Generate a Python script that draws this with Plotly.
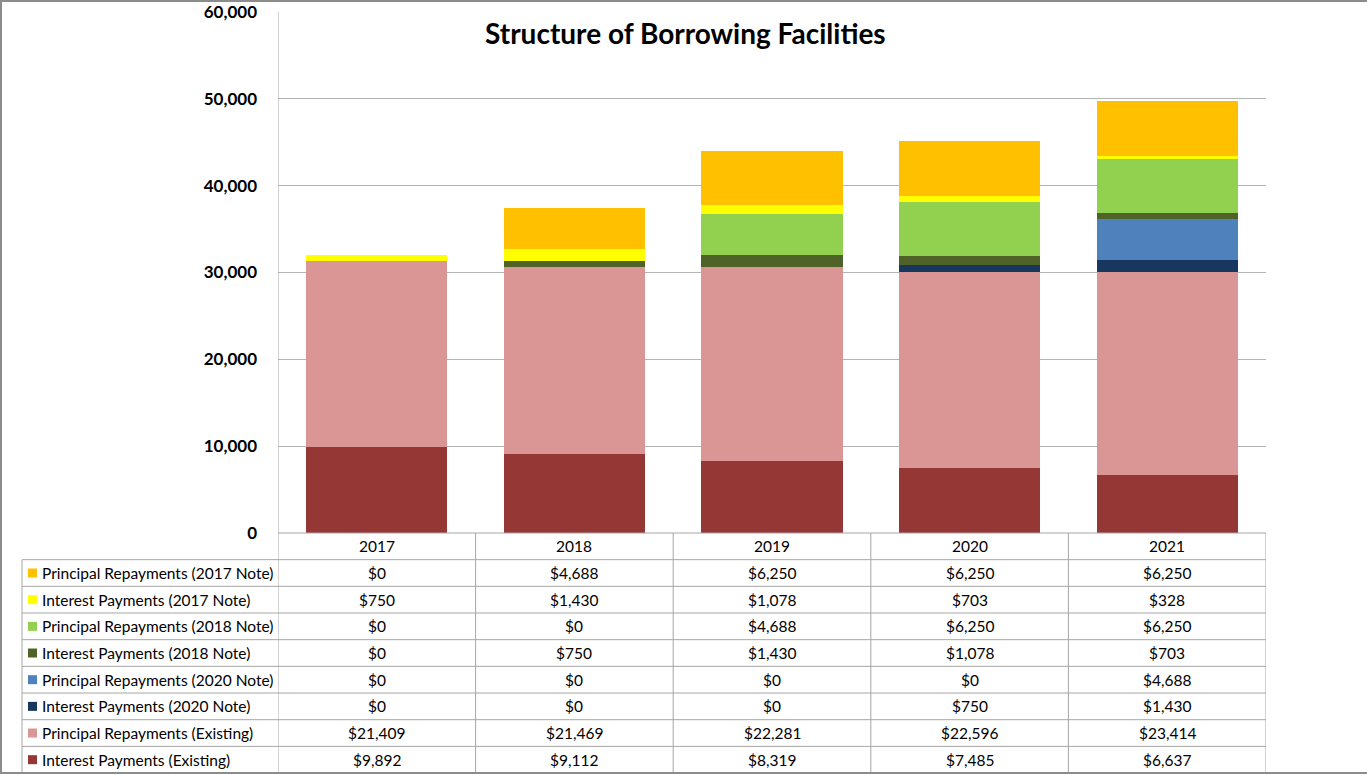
import plotly.graph_objects as go

years = ["2017", "2018", "2019", "2020", "2021"]

# series (stack order bottom -> top)
interest_existing = [9892, 9112, 8319, 7485, 6637]
principal_existing = [21409, 21469, 22281, 22596, 23414]
interest_2020 = [0, 0, 0, 750, 1430]
principal_2020 = [0, 0, 0, 0, 4688]
interest_2018 = [0, 750, 1430, 1078, 703]
principal_2018 = [0, 0, 4688, 6250, 6250]
interest_2017 = [750, 1430, 1078, 703, 328]
principal_2017 = [0, 4688, 6250, 6250, 6250]

series = [
    ("Interest Payments (Existing)", interest_existing, "#953735"),
    ("Principal Repayments (Existing)", principal_existing, "#D99694"),
    ("Interest Payments (2020 Note)", interest_2020, "#17375E"),
    ("Principal Repayments (2020 Note)", principal_2020, "#4F81BD"),
    ("Interest Payments (2018 Note)", interest_2018, "#4F6228"),
    ("Principal Repayments (2018 Note)", principal_2018, "#92D050"),
    ("Interest Payments (2017 Note)", interest_2017, "#FFFF00"),
    ("Principal Repayments (2017 Note)", principal_2017, "#FFC000"),
]

W, H = 1367, 775
L, R, T, B = 278, 101, 12, 242
PW, PH = W - L - R, H - T - B
FONT = "Lato"
TSIZE = 15.5


def px(x):
    return (x - L) / PW


def py(y):
    return (H - B - y) / PH


fig = go.Figure()
for name, vals, col in series:
    fig.add_trace(go.Bar(x=years, y=vals, name=name, marker=dict(color=col, line=dict(width=0))))

shapes = []
annotations = []
line_col = "#A6A6A6"

# table geometry
row_h = 26.67
top = H - B
nrows = len(series) + 1
# horizontal lines
for k in range(nrows + 1):
    y = top + row_h * k
    x0 = L if k == 0 else 22
    shapes.append(dict(type="line", xref="paper", yref="paper", x0=px(x0), x1=1,
                       y0=py(y), y1=py(y), line=dict(color=line_col, width=1)))
# vertical lines
for i in range(len(years) + 1):
    shapes.append(dict(type="line", xref="x", yref="paper", x0=i - 0.5, x1=i - 0.5,
                       y0=py(top + row_h * nrows), y1=py(top) if i > 0 else 1,
                       line=dict(color=line_col, width=1)))
shapes.append(dict(type="line", xref="paper", yref="paper", x0=px(22), x1=px(22),
                   y0=py(top + row_h), y1=py(top + row_h * nrows),
                   line=dict(color=line_col, width=1)))
# header
for i, yr in enumerate(years):
    annotations.append(dict(x=i, xref="x", yref="paper", y=py(top + row_h * 0.5), text=yr,
                            xanchor="center", yanchor="middle",
                            showarrow=False, font=dict(family=FONT, size=TSIZE, color="#000")))
# rows (reverse of stack order)
for r, (name, vals, col) in enumerate(reversed(series)):
    yc = top + row_h * (r + 1.5)
    shapes.append(dict(type="rect", xref="paper", yref="paper", x0=px(28), x1=px(37),
                       y0=py(yc + 4.5), y1=py(yc - 4.5), fillcolor=col, line=dict(width=0)))
    annotations.append(dict(x=px(40), xref="paper", yref="paper", y=py(yc), text=name,
                            xanchor="left", yanchor="middle", showarrow=False,
                            font=dict(family=FONT, size=TSIZE, color="#000")))
    for i, v in enumerate(vals):
        annotations.append(dict(x=i, xref="x", yref="paper", y=py(yc), text=f"${v:,}",
                                xanchor="center", yanchor="middle",
                                showarrow=False, font=dict(family=FONT, size=TSIZE, color="#000")))

# outer frame
shapes.append(dict(type="rect", xref="paper", yref="paper", x0=px(1), x1=px(1380),
                   y0=py(773), y1=py(1), line=dict(color="#8C8C8C", width=2)))

annotations.append(dict(x=px(685), y=py(33), xref="paper", yref="paper",
                        xanchor="center", yanchor="middle",
                        text="<b>Structure of Borrowing Facilities</b>", showarrow=False,
                        font=dict(family=FONT, size=28, color="#000")))

fig.update_layout(
    barmode="stack",
    bargap=0.286,
    width=W, height=H,
    margin=dict(l=L, r=R, t=T, b=B, pad=0, autoexpand=False),
    paper_bgcolor="white", plot_bgcolor="white",
    showlegend=False,
    shapes=shapes,
    annotations=annotations,
    xaxis=dict(type="category", range=[-0.5, 4.5], showticklabels=False, showgrid=False,
               zeroline=False, showline=False, ticks="", automargin=False),
    yaxis=dict(range=[0, 60000], dtick=10000, tickformat=",d", showgrid=True,
               gridcolor="#B3B3B3", gridwidth=1, zeroline=False, showline=False,
               ticklabelstandoff=20, automargin=False,
               tickfont=dict(family=FONT, size=17, color="#000", weight="bold")),
)

fig.write_html("out.html")
